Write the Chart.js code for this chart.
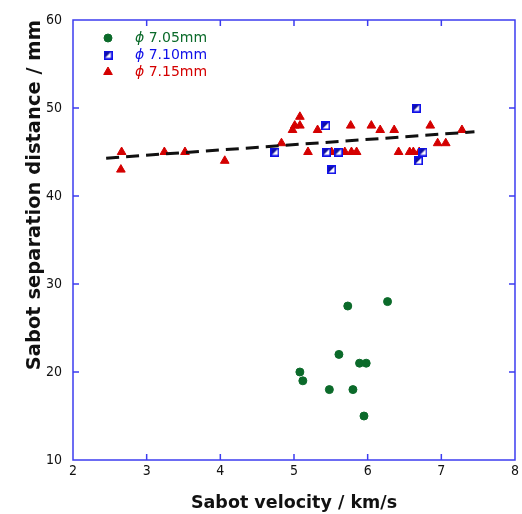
<!DOCTYPE html>
<html>
<head>
<meta charset="utf-8">
<script src="https://cdn.jsdelivr.net/npm/chart.js@4"></script>
<style>
  html, body { margin: 0; padding: 0; background: #fff; }
  canvas { display: block; }
</style>
</head>
<body>
<canvas id="chart" width="522" height="514"></canvas>
<script>
// values
const x705 = [5.73, 6.27, 5.61, 5.89, 5.98, 5.08, 5.12, 5.48, 5.80, 5.95];
const y705 = [27.5, 28, 22, 21, 21, 20, 19, 18, 18, 15];

const x710 = [4.74, 5.43, 5.44, 5.60, 5.51, 6.66, 6.75, 6.69];
const y710 = [45, 48, 45, 45, 43, 50, 45, 44];

const x715 = [2.66, 2.65, 3.24, 3.52, 4.06, 4.83, 5.08, 5.01, 5.08, 4.98, 5.32, 5.19, 5.77, 6.05,
              6.17, 6.36, 6.85, 7.28, 6.95, 7.06, 5.51, 5.69, 5.78, 5.85, 6.42, 6.57, 6.62, 6.70];
const y715 = [45, 43, 45, 45, 44, 46, 49, 48, 48, 47.5, 47.5, 45, 48, 48,
              47.5, 47.5, 48, 47.5, 46, 46, 45, 45, 45, 45, 45, 45, 45, 45];

const fitX = [2.45, 7.45];
const fitY = [44.3, 47.3];

const labels = ['ϕ 7.05mm', 'ϕ 7.10mm', 'ϕ 7.15mm'];
const xTicks = [2, 3, 4, 5, 6, 7, 8];
const yTicks = [10, 20, 30, 40, 50, 60];

const green = '#0b6a2a';
const blue = '#1010e8';
const red = '#d40000';
const frame = '#3c3cf0';

const toPoints = (xs, ys) => xs.map((x, i) => ({ x: x, y: ys[i] }));

// half filled square marker
const halfSquare = (() => {
    const c = document.createElement('canvas');
    c.width = 9;
    c.height = 9;
    const g = c.getContext('2d');
    g.fillStyle = '#fff';
    g.fillRect(0, 0, 9, 9);
    g.fillStyle = '#1010a0';
    g.beginPath();
    g.moveTo(1, 1);
    g.lineTo(8, 1);
    g.lineTo(1, 8);
    g.closePath();
    g.fill();
    g.strokeStyle = blue;
    g.lineWidth = 1.6;
    g.strokeRect(0.8, 0.8, 7.4, 7.4);
    return c;
})();

const frameAndTicks = {
    id: 'frameAndTicks',
    afterDatasetsDraw(chart) {
        const { ctx, chartArea: a, scales } = chart;
        ctx.save();
        ctx.strokeStyle = frame;
        ctx.lineWidth = 1.5;
        ctx.strokeRect(a.left, a.top, a.right - a.left, a.bottom - a.top);
        ctx.beginPath();
        xTicks.slice(1, -1).forEach(v => {
            const px = scales.x.getPixelForValue(v);
            ctx.moveTo(px, a.bottom); ctx.lineTo(px, a.bottom - 6);
            ctx.moveTo(px, a.top); ctx.lineTo(px, a.top + 6);
        });
        yTicks.slice(1, -1).forEach(v => {
            const py = scales.y.getPixelForValue(v);
            ctx.moveTo(a.left, py); ctx.lineTo(a.left + 6, py);
            ctx.moveTo(a.right, py); ctx.lineTo(a.right - 6, py);
        });
        ctx.stroke();
        ctx.restore();
    }
};

const insideLegend = {
    id: 'insideLegend',
    afterDraw(chart) {
        const ctx = chart.ctx;
        const colors = [green, blue, red];
        const rows = [38, 55, 72];
        ctx.save();
        rows.forEach((y, i) => {
            const ds = chart.data.datasets[i + 1];
            ctx.fillStyle = ds.backgroundColor || colors[i];
            ctx.strokeStyle = ds.borderColor || colors[i];
            ctx.lineWidth = 1;
            Chart.helpers.drawPoint(ctx, {
                pointStyle: ds.pointStyle,
                radius: ds.pointRadius,
                borderWidth: 1
            }, 108, y);
            // phi in italics, then the size
            ctx.textBaseline = 'middle';
            ctx.textAlign = 'left';
            ctx.fillStyle = colors[i];
            const phi = labels[i].slice(0, 1);
            const rest = labels[i].slice(1);
            ctx.font = 'italic 14px "DejaVu Sans", sans-serif';
            ctx.fillText(phi, 135, y);
            const w = ctx.measureText(phi).width;
            ctx.font = '14px "DejaVu Sans", sans-serif';
            ctx.fillText(rest, 135 + w, y);
        });
        ctx.restore();
    }
};

const tickFont = { family: '"DejaVu Sans Condensed", "Liberation Sans Narrow", "Liberation Sans"', size: 14 };

const ctx = document.getElementById('chart').getContext('2d');
new Chart(ctx, {
    type: 'scatter',
    data: {
        datasets: [
            {
                type: 'line',
                label: 'fit',
                data: toPoints(fitX, fitY),
                borderColor: '#111',
                borderWidth: 3,
                borderDash: [13, 7],
                pointRadius: 0,
                fill: false
            },
            {
                label: labels[0],
                data: toPoints(x705, y705),
                pointStyle: 'circle',
                pointRadius: 4,
                backgroundColor: green,
                borderColor: green,
                borderWidth: 1
            },
            {
                label: labels[1],
                data: toPoints(x710, y710),
                pointStyle: halfSquare,
                pointRadius: 5
            },
            {
                label: labels[2],
                data: toPoints(x715, y715),
                pointStyle: 'triangle',
                pointRadius: 5,
                backgroundColor: red,
                borderColor: red,
                borderWidth: 1
            }
        ]
    },
    options: {
        responsive: false,
        animation: false,
        layout: { padding: { top: 20, right: 7, left: 0, bottom: 0 } },
        plugins: {
            legend: { display: false },
            tooltip: { enabled: false }
        },
        scales: {
            x: {
                type: 'linear',
                min: 2,
                max: 8,
                afterFit: s => { s.height = 54; },
                afterBuildTicks: s => { s.ticks = xTicks.map(v => ({ value: v })); },
                grid: { display: false, drawTicks: false },
                border: { display: false },
                ticks: { padding: 3, color: '#111', font: tickFont },
                title: {
                    display: true,
                    text: 'Sabot velocity / km/s',
                    color: '#111',
                    padding: { top: 0.5, bottom: 0 },
                    font: { family: '"DejaVu Sans", sans-serif', size: 17.5, weight: 'bold' }
                }
            },
            y: {
                type: 'linear',
                min: 10,
                max: 60,
                afterFit: s => { s.width = 73; },
                afterBuildTicks: s => { s.ticks = yTicks.map(v => ({ value: v })); },
                grid: { display: false, drawTicks: false },
                border: { display: false },
                ticks: { padding: 11, color: '#111', font: tickFont },
                title: {
                    display: true,
                    text: 'Sabot separation distance / mm',
                    align: 'end',
                    color: '#111',
                    padding: { top: 23, bottom: 0 },
                    font: { family: '"DejaVu Sans", sans-serif', size: 19.5, weight: 'bold' }
                }
            }
        }
    },
    plugins: [frameAndTicks, insideLegend]
});
</script>
</body>
</html>
